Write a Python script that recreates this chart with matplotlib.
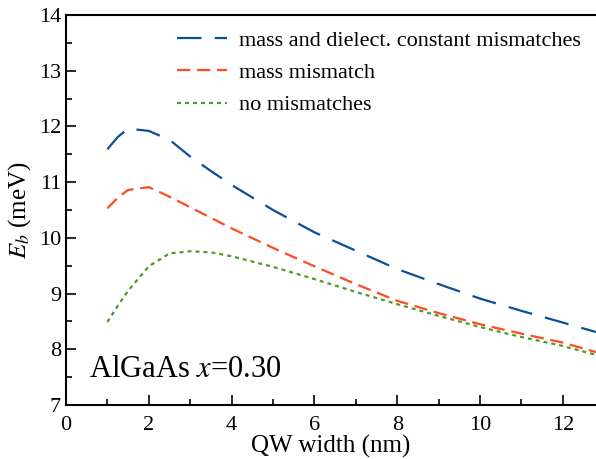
import numpy as np
import matplotlib
matplotlib.use("Agg")
import matplotlib.pyplot as plt
from matplotlib.ticker import MultipleLocator

plt.rcParams['font.family'] = ['Liberation Serif', 'DejaVu Serif']
plt.rcParams['mathtext.fontset'] = 'stix'

# QW width (nm) and binding energies (meV)
width = [1.0, 1.25, 1.5, 2.0, 2.5, 3.0, 3.5, 4.0, 5.0, 6.0, 7.0, 8.0, 9.0, 10.0, 11.0, 12.0, 12.8]
eb_both = [11.59, 11.81, 11.96, 11.92, 11.76, 11.46, 11.2, 10.95, 10.5, 10.1, 9.77, 9.44, 9.17, 8.91, 8.69, 8.48, 8.31]
eb_mass = [10.53, 10.72, 10.86, 10.91, 10.74, 10.55, 10.36, 10.17, 9.82, 9.49, 9.17, 8.87, 8.65, 8.45, 8.28, 8.12, 7.95]
eb_none = [8.49, 8.78, 9.05, 9.49, 9.72, 9.76, 9.74, 9.67, 9.48, 9.26, 9.03, 8.81, 8.6, 8.4, 8.22, 8.06, 7.9]

fig = plt.figure(figsize=(5.96, 4.59), dpi=100)
ax = fig.add_axes([0.1107, 0.1176, 0.8893, 0.8497])

ax.plot(width, eb_both, color='#0b4f96', lw=1.6, dashes=(11, 6),
        label='mass and dielect. constant mismatches')
ax.plot(width, eb_mass, color='#ff4b1f', lw=1.6, dashes=(6, 3),
        label='mass mismatch')
ax.plot(width, eb_none, color='#4c9a2a', lw=1.6, dashes=(1.8, 1.8),
        label='no mismatches')

ax.set_xlim(0, 12.8)
ax.set_ylim(7, 14)
ax.xaxis.set_major_locator(MultipleLocator(2))
ax.xaxis.set_minor_locator(MultipleLocator(1))
ax.yaxis.set_major_locator(MultipleLocator(1))
ax.yaxis.set_minor_locator(MultipleLocator(0.5))
ax.tick_params(which='both', direction='in', labelsize=16, width=1.2)
ax.tick_params(which='major', length=7)
ax.tick_params(which='minor', length=4)
ax.tick_params(axis='x', pad=8)
for s in ['left', 'bottom', 'top']:
    ax.spines[s].set_linewidth(1.5)
ax.spines['right'].set_visible(False)

ax.set_xlabel('QW width (nm)', fontsize=18, labelpad=0)
ax.set_ylabel('$E_b$ (meV)', fontsize=18, labelpad=4)

ax.text(0.55, 7.5, 'AlGaAs $x$=0.30', fontsize=22)

ax.legend(loc='upper right', frameon=False, fontsize=16, handlelength=2.25,
          handletextpad=0.5, bbox_to_anchor=(1.0, 1.0), borderaxespad=0.3,
          borderpad=0.4, labelspacing=0.52)

fig.savefig('out.png', dpi=100)
